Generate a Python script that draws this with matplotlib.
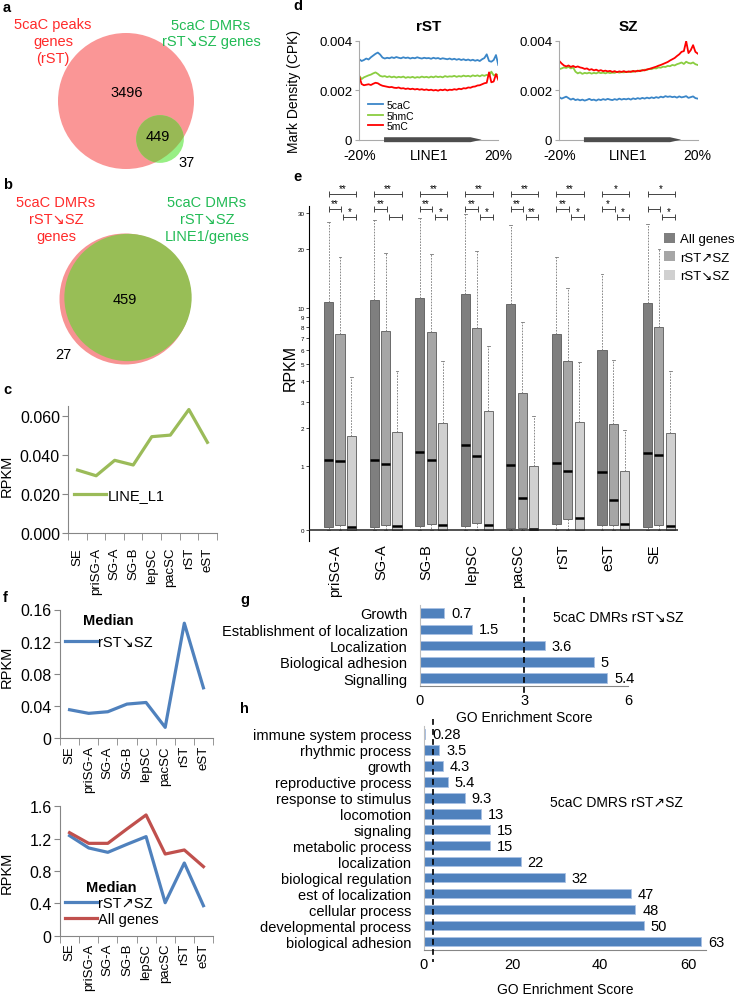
import matplotlib
matplotlib.use("Agg")
import matplotlib.pyplot as plt
from matplotlib.patches import Circle, Patch, Polygon
import numpy as np

plt.rcParams['font.family'] = ['Liberation Sans', 'DejaVu Sans']

# ---------------- data ----------------
# a: Venn 5caC peak genes (rST) vs 5caC DMR rST->SZ genes
venn_a_red_only = 3496
venn_a_both = 449
venn_a_green_only = 37
# b: DMR genes vs DMR LINE1/genes
venn_b_both = 459
venn_b_red_only = 27

# c / f stage order
stages_line = ['SE', 'priSG-A', 'SG-A', 'SG-B', 'lepSC', 'pacSC', 'rST', 'eST']
line_l1 = [0.0322, 0.0293, 0.0372, 0.0348, 0.0493, 0.0501, 0.0632, 0.0464]
median_down = [0.0355, 0.031, 0.033, 0.0425, 0.0445, 0.0136, 0.143, 0.0627]
median_up = [1.237, 1.085, 1.031, 1.13, 1.225, 0.408, 0.899, 0.371]
median_all = [1.274, 1.142, 1.142, 1.32, 1.493, 1.01, 1.06, 0.854]

# d: mark density profiles over LINE1 (units of 1e-3 CPK)
rst_5cac = [3.25, 3.18, 3.22, 3.28, 3.24, 3.33, 3.40, 3.47, 3.52, 3.44,
            3.32, 3.28, 3.31, 3.29, 3.33, 3.30, 3.34, 3.31, 3.29, 3.33,
            3.30, 3.32, 3.28, 3.31, 3.29, 3.33, 3.30, 3.28, 3.31, 3.29,
            3.30, 3.27, 3.31, 3.28, 3.30, 3.26, 3.29, 3.27, 3.25, 3.28,
            3.24, 3.27, 3.23, 3.26, 3.22, 3.25, 3.21, 3.24, 3.20, 3.23,
            3.19, 3.22, 3.18, 3.25, 3.30, 3.45, 3.18, 3.15, 3.22, 3.42, 3.02]
rst_5hmc = [2.58, 2.45, 2.52, 2.56, 2.60, 2.63, 2.68, 2.72, 2.66, 2.58,
            2.55, 2.57, 2.53, 2.56, 2.52, 2.55, 2.51, 2.54, 2.52, 2.55,
            2.50, 2.53, 2.51, 2.54, 2.50, 2.53, 2.51, 2.55, 2.52, 2.54,
            2.51, 2.55, 2.52, 2.56, 2.53, 2.55, 2.52, 2.57, 2.54, 2.56,
            2.55, 2.58, 2.54, 2.57, 2.55, 2.59, 2.56, 2.58, 2.55, 2.60,
            2.57, 2.60, 2.56, 2.61, 2.58, 2.62, 2.59, 2.75, 2.60, 2.63, 2.62]
rst_5mc = [2.55, 2.25, 2.20, 2.22, 2.24, 2.21, 2.26, 2.30, 2.28, 2.22,
           2.18, 2.16, 2.14, 2.12, 2.13, 2.10, 2.09, 2.11, 2.07, 2.08,
           2.05, 2.07, 2.04, 2.06, 2.03, 2.05, 2.02, 2.04, 2.01, 2.03,
           2.00, 2.02, 1.99, 2.01, 1.98, 2.02, 2.00, 2.03, 1.99, 2.02,
           2.01, 2.04, 2.02, 2.06, 2.04, 2.08, 2.07, 2.11, 2.10, 2.14,
           2.15, 2.19, 2.20, 2.24, 2.28, 2.30, 2.72, 2.32, 2.35, 2.65, 2.42]
sz_5cac = [1.72, 1.66, 1.70, 1.74, 1.68, 1.62, 1.66, 1.60, 1.63, 1.59,
           1.62, 1.58, 1.61, 1.65, 1.60, 1.62, 1.58, 1.63, 1.60, 1.64,
           1.61, 1.65, 1.62, 1.60, 1.64, 1.61, 1.66, 1.62, 1.65, 1.63,
           1.66, 1.62, 1.67, 1.64, 1.68, 1.65, 1.69, 1.66, 1.70, 1.67,
           1.71, 1.68, 1.72, 1.69, 1.74, 1.71, 1.76, 1.73, 1.75, 1.72,
           1.74, 1.70, 1.75, 1.71, 1.73, 1.76, 1.69, 1.72, 1.75, 1.68, 1.66]
sz_5hmc = [2.85, 2.88, 2.92, 2.90, 2.94, 2.88, 2.92, 2.75, 2.68, 2.72,
           2.66, 2.70, 2.68, 2.71, 2.67, 2.70, 2.68, 2.72, 2.69, 2.71,
           2.68, 2.72, 2.69, 2.71, 2.70, 2.74, 2.71, 2.73, 2.72, 2.75,
           2.73, 2.76, 2.74, 2.78, 2.76, 2.80, 2.79, 2.83, 2.82, 2.86,
           2.85, 2.89, 2.88, 2.92, 2.91, 2.95, 2.94, 2.98, 2.97, 3.02,
           3.00, 3.05, 3.08, 3.12, 3.06, 3.15, 3.10, 3.08, 3.12, 3.05, 3.02]
sz_5mc = [3.18, 3.08, 3.00, 2.96, 3.00, 2.94, 2.98, 2.93, 2.96, 2.92,
          2.90, 2.86, 2.88, 2.82, 2.85, 2.80, 2.83, 2.78, 2.81, 2.77,
          2.79, 2.76, 2.78, 2.74, 2.77, 2.73, 2.76, 2.74, 2.77, 2.73,
          2.76, 2.74, 2.78, 2.75, 2.79, 2.77, 2.81, 2.80, 2.84, 2.86,
          2.89, 2.92, 2.95, 2.99, 3.02, 3.06, 3.10, 3.14, 3.20, 3.25,
          3.30, 3.38, 3.45, 3.55, 3.58, 3.98, 3.50, 3.62, 3.82, 3.55, 3.48]

# e: RPKM boxplots
stages_box = ['priSG-A', 'SG-A', 'SG-B', 'lepSC', 'pacSC', 'rST', 'eST', 'SE']
all_q1 = [0.03, 0.03, 0.04, 0.04, 0.02, 0.07, 0.05, 0.03]
all_med = [1.14, 1.14, 1.33, 1.51, 1.02, 1.06, 0.87, 1.29]
all_q3 = [10.8, 11.1, 11.3, 11.8, 10.5, 7.33, 6.03, 10.7]
all_whi = [26.9, 27.6, 28.2, 29.4, 26.1, 18.1, 15.0, 26.4]
up_q1 = [0.06, 0.06, 0.07, 0.08, 0.02, 0.13, 0.05, 0.06]
up_med = [1.10, 1.04, 1.13, 1.23, 0.42, 0.90, 0.38, 1.25]
up_q3 = [7.3, 7.6, 7.55, 7.87, 3.41, 5.2, 2.14, 7.99]
up_whi = [18.1, 19.0, 18.8, 19.5, 8.46, 12.7, 5.29, 19.9]
down_q1 = [0, 0, 0, 0, 0, 0, 0, 0]
down_med = [0.033, 0.04, 0.05, 0.05, 0.01, 0.14, 0.065, 0.04]
down_q3 = [1.75, 1.89, 2.17, 2.63, 1.0, 2.2, 0.89, 1.87]
down_whi = [4.25, 4.6, 5.24, 6.34, 2.44, 5.13, 1.95, 4.6]
sig_all_down = ['**', '**', '**', '**', '**', '**', '*', '*']
sig_all_up = ['**', '**', '**', '**', '**', '**', '*', '']
sig_up_down = ['*', '', '*', '*', '**', '*', '*', '*']

# g / h: GO enrichment
go_g_terms = ['Growth', 'Establishment of localization', 'Localization',
              'Biological adhesion', 'Signalling']
go_g_scores = [0.7, 1.5, 3.6, 5, 5.4]
go_h_terms = ['immune system process', 'rhythmic process', 'growth',
              'reproductive process', 'response to stimulus', 'locomotion',
              'signaling', 'metabolic process', 'localization',
              'biological regulation', 'est of localization', 'cellular process',
              'developmental process', 'biological adhesion']
go_h_scores = [0.28, 3.5, 4.3, 5.4, 9.3, 13, 15, 15, 22, 32, 47, 48, 50, 63]

# ---------------- figure ----------------
W, H = 741, 995
fig = plt.figure(figsize=(W / 100, H / 100), dpi=100)


def px_axes(left, top, right, bottom):
    return fig.add_axes([left / W, 1 - bottom / H, (right - left) / W, (bottom - top) / H])


GRAY = '#868686'
RED_T = '#ff2a2a'
GREEN_T = '#22bb55'

ov = fig.add_axes([0, 0, 1, 1], zorder=-1)
ov.set_xlim(0, W)
ov.set_ylim(H, 0)
ov.axis('off')

for lab, x, y in [('a', 3, 8), ('b', 3, 185), ('c', 3, 390), ('d', 293, 6),
                  ('e', 293, 177), ('f', 3, 598), ('g', 240, 600), ('h', 240, 709)]:
    ov.text(x, y, lab, fontsize=10.5, fontweight='bold', ha='left', va='center')

# ----- a -----
k_a = 68 / np.sqrt(venn_a_red_only + venn_a_both)
red_a = Circle((126, 102), k_a * np.sqrt(venn_a_red_only + venn_a_both), fc='#fa9696', ec='none')
ov.add_patch(red_a)
r_g = k_a * np.sqrt(venn_a_both + venn_a_green_only)
ov.add_patch(Circle((160, 140), r_g, fc='#97ef84', ec='none'))
ovl = Circle((160, 140), r_g, fc='#98b955', ec='none')
ov.add_patch(ovl)
ovl.set_clip_path(red_a)
ov.text(53, 42, '5caC peaks\ngenes\n(rST)', color=RED_T, fontsize=10.5, ha='center',
        va='center', linespacing=1.25)
ov.text(211, 34, '5caC DMRs\nrST↘SZ genes', color=GREEN_T, fontsize=10.5, ha='center',
        va='center', linespacing=1.25)
ov.text(127, 93, str(venn_a_red_only), fontsize=10.5, ha='center', va='center')
ov.text(158, 137, str(venn_a_both), fontsize=10.5, ha='center', va='center')
ov.text(187, 163, str(venn_a_green_only), fontsize=10.5, ha='center', va='center')

# ----- b -----
k_b = 65.5 / np.sqrt(venn_b_both + venn_b_red_only)
ov.add_patch(Circle((125, 300), k_b * np.sqrt(venn_b_both + venn_b_red_only), fc='#f79393', ec='none'))
ov.add_patch(Circle((128, 298.5), k_b * np.sqrt(venn_b_both), fc='#98be56', ec='none'))
ov.text(56, 220, '5caC DMRs\nrST↘SZ\ngenes', color=RED_T, fontsize=10.5, ha='center',
        va='center', linespacing=1.25)
ov.text(207, 220, '5caC DMRs\nrST↘SZ\nLINE1/genes', color=GREEN_T, fontsize=10.5,
        ha='center', va='center', linespacing=1.25)
ov.text(125, 300, str(venn_b_both), fontsize=10.5, ha='center', va='center')
ov.text(63, 355, str(venn_b_red_only), fontsize=10.5, ha='center', va='center')


def excel_axes(ax, ylim, yticks, ylabels, xpad):
    n = len(stages_line)
    ax.set_xlim(-0.5, n - 0.5)
    ax.set_ylim(*ylim)
    for s in ['top', 'right']:
        ax.spines[s].set_visible(False)
    for s in ['left', 'bottom']:
        ax.spines[s].set_color(GRAY)
    ax.set_xticks(range(n))
    ax.set_xticklabels(stages_line, rotation=90, fontsize=9.5)
    ax.set_xticks(np.arange(-0.5, n), minor=True)
    ax.tick_params(axis='x', which='major', length=0, pad=xpad)
    ax.tick_params(axis='x', which='minor', length=5, color=GRAY)
    ax.set_yticks(yticks)
    ax.set_yticklabels(ylabels, fontsize=11.5)
    ax.tick_params(axis='y', length=4, color=GRAY, pad=2)
    ax.set_ylabel('RPKM', fontsize=10.5)


# ----- c -----
axc = px_axes(68.3, 407, 216.7, 534)
excel_axes(axc, (0, 0.065), [0, 0.02, 0.04, 0.06], ['0.000', '0.020', '0.040', '0.060'], 10)
axc.plot(range(len(stages_line)), line_l1, color='#9bbb59', lw=2.3, label='LINE_L1')
axc.yaxis.set_label_coords(-0.37, 0.46)
axc.legend(loc='center left', bbox_to_anchor=(0.04, 0.30), frameon=False, fontsize=10.5,
           handlelength=2.2, handletextpad=0.1, borderpad=0, borderaxespad=0)

# ----- d -----
xs = np.linspace(0, 1, len(rst_5cac))
d_cols = {'5caC': '#3a86c8', '5hmC': '#8acd40', '5mC': '#ff0000'}
for (left, right), title, series in [((359.3, 498.3), 'rST', (rst_5cac, rst_5hmc, rst_5mc)),
                                      ((559.3, 697.7), 'SZ', (sz_5cac, sz_5hmc, sz_5mc))]:
    ax = px_axes(left, 41.7, right, 140.7)
    for name, vals in zip(['5caC', '5hmC', '5mC'], series):
        ax.plot(xs, np.array(vals) * 1e-3, color=d_cols[name], lw=1.3, label=name)
    ax.set_xlim(0, 1)
    ax.set_ylim(0, 0.004)
    ax.set_yticks([0, 0.002, 0.004])
    ax.set_yticklabels(['0', '0.002', '0.004'], fontsize=9.5)
    ax.set_xticks([0, 0.5, 1])
    ax.set_xticklabels(['-20%', 'LINE1', '20%'], fontsize=10)
    ax.tick_params(axis='x', length=0, pad=6)
    ax.tick_params(axis='y', length=3, color='#aaaaaa', pad=2)
    for s in ['top', 'right']:
        ax.spines[s].set_visible(False)
    for s in ['left', 'bottom']:
        ax.spines[s].set_color('#aaaaaa')
    ax.set_title(title, fontsize=11, fontweight='bold', pad=8)
    h = 0.0001
    ax.add_patch(Polygon([(0.178, -h), (0.80, -h), (0.88, 0), (0.80, h), (0.178, h)],
                         closed=True, fc='#4d4d4d', ec='none', clip_on=False, zorder=5))
    if title == 'rST':
        ax.set_ylabel('Mark Density (CPK)', fontsize=10)
        ax.yaxis.set_label_coords(-0.42, 0.5)
        ax.legend(loc='upper left', bbox_to_anchor=(0.06, 0.40), frameon=False, fontsize=7.5,
                  handlelength=1.5, handletextpad=0.3, labelspacing=0.05, borderpad=0,
                  borderaxespad=0)

# ----- e -----
axe = px_axes(309.3, 206.7, 678.3, 541.7)
axe.set_yscale('function', functions=(np.log1p, np.expm1))
box_cols = ['#7f7f7f', '#a6a6a6', '#d0d0d0']
groups = [(all_q1, all_med, all_q3, all_whi), (up_q1, up_med, up_q3, up_whi),
          (down_q1, down_med, down_q3, down_whi)]
for j, (q1, med, q3, whi) in enumerate(groups):
    stats = [dict(whislo=0.0, q1=q1[i], med=med[i], q3=q3[i], whishi=whi[i], fliers=[])
             for i in range(len(stages_box))]
    pos = [4 * i + j for i in range(len(stages_box))]
    bp = axe.bxp(stats, positions=pos, widths=0.8, capwidths=0.25, patch_artist=True,
                 showfliers=False,
                 boxprops=dict(facecolor=box_cols[j], edgecolor='#5a5a5a', lw=0.6),
                 medianprops=dict(color='black', lw=1.8, solid_capstyle='butt'),
                 whiskerprops=dict(color='#777777', lw=0.6, ls=(0, (2, 1.5))),
                 capprops=dict(color='#777777', lw=0.6))
axe.axhline(0, color='#222222', lw=1.1, zorder=4)
axe.set_xlim(-1.7, 30.7)
axe.set_ylim(-0.11, 32.4)
yt = [0, 1, 2, 3, 4, 5, 6, 7, 8, 9, 10, 20, 30]
axe.set_yticks(yt)
axe.set_yticklabels([str(v) for v in yt], fontsize=4.5)
axe.tick_params(axis='y', length=2, width=0.5, pad=1.5)
axe.set_xticks([4 * i + 0.6 for i in range(len(stages_box))])
axe.set_xticklabels(stages_box, rotation=90, fontsize=10.5)
axe.tick_params(axis='x', length=0, pad=2)
for s in ['top', 'right', 'bottom']:
    axe.spines[s].set_visible(False)
axe.spines['left'].set_linewidth(0.8)
axe.set_ylabel('RPKM', fontsize=11.5)
axe.yaxis.set_label_coords(-0.032, 0.52)
for i in range(len(stages_box)):
    g = 4 * i
    for (x1, x2, y, s) in [(g, g + 2.4, 37.0, sig_all_down[i]),
                           (g, g + 1.1, 31.3, sig_all_up[i]),
                           (g + 1.3, g + 2.4, 28.7, sig_up_down[i])]:
        axe.plot([x1, x2], [y, y], color='#444444', lw=0.7, marker='|', markersize=5,
                 markeredgewidth=0.7, clip_on=False)
        if s:
            axe.annotate(s, xy=((x1 + x2) / 2, y), xytext=(0, 0.5), textcoords='offset points',
                         ha='center', va='bottom', fontsize=7, annotation_clip=False)
axe.legend(handles=[Patch(facecolor=c, edgecolor='none', label=l)
                    for c, l in zip(box_cols, ['All genes', 'rST↗SZ', 'rST↘SZ'])],
           loc='upper left', bbox_to_anchor=(0.962, 0.92), frameon=False, fontsize=9.5,
           handlelength=0.8, handleheight=0.8, handletextpad=0.4, labelspacing=0.45,
           borderpad=0, borderaxespad=0)

# ----- f -----
axf1 = px_axes(60, 610.5, 213, 739.3)
excel_axes(axf1, (0, 0.16), [0, 0.04, 0.08, 0.12, 0.16], ['0', '0.04', '0.08', '0.12', '0.16'], 5)
axf1.plot(range(len(stages_line)), median_down, color='#4f81bd', lw=2.3, label='rST↘SZ')
axf1.yaxis.set_label_coords(-0.30, 0.56)
axf1.legend(title='Median', title_fontproperties=dict(weight='bold', size=10.5),
            loc='upper left', bbox_to_anchor=(0.03, 0.97), frameon=False, fontsize=10.5,
            handlelength=2.2, handletextpad=0.1, borderpad=0, borderaxespad=0)

axf2 = px_axes(60, 807.3, 213, 936.7)
excel_axes(axf2, (0, 1.6), [0, 0.4, 0.8, 1.2, 1.6], ['0', '0.4', '0.8', '1.2', '1.6'], 5)
axf2.plot(range(len(stages_line)), median_up, color='#4f81bd', lw=2.3, label='rST↗SZ')
axf2.plot(range(len(stages_line)), median_all, color='#c0504d', lw=2.3, label='All genes')
axf2.yaxis.set_label_coords(-0.30, 0.49)
axf2.legend(title='Median', title_fontproperties=dict(weight='bold', size=10.5),
            loc='upper left', bbox_to_anchor=(0.03, 0.43), frameon=False, fontsize=10.5,
            handlelength=2.2, handletextpad=0.1, labelspacing=0.15, borderpad=0,
            borderaxespad=0)


def go_axes(ax, terms, scores, xmax, xticks, dash_x, dash_ext, note, note_xy):
    n = len(terms)
    y = np.arange(n)
    ax.barh(y, scores, height=0.58, color='#4f81bd', edgecolor='#a9c1e3', lw=0.6)
    ax.set_ylim(n - 0.5, -0.5)
    ax.set_xlim(0, xmax)
    ax.set_yticks(y)
    ax.set_yticklabels(terms, fontsize=10.5)
    ax.set_xticks(xticks)
    ax.set_xticklabels([str(v) for v in xticks], fontsize=10.5)
    ax.tick_params(axis='y', length=0, pad=9)
    ax.tick_params(axis='x', length=0, pad=5)
    for s in ['top', 'right']:
        ax.spines[s].set_visible(False)
    ax.spines['left'].set_color('#bfbfbf')
    ax.spines['bottom'].set_color(GRAY)
    for yi, v in zip(y, scores):
        ax.annotate(f'{v:g}', xy=(v, yi), xytext=(5, 0), textcoords='offset points',
                    ha='left', va='center', fontsize=10.5)
    ax.plot([dash_x, dash_x], [-0.5 - dash_ext[0], n - 0.5 + dash_ext[1]], color='black',
            lw=1.2, ls=(0, (3.5, 2.5)), clip_on=False, zorder=5)
    ax.text(note_xy[0], note_xy[1], note, transform=ax.transAxes, fontsize=10,
            ha='left', va='center')
    ax.set_xlabel('GO Enrichment Score', fontsize=10, labelpad=2)


axg = px_axes(420, 605.8, 628.3, 687.3)
go_axes(axg, go_g_terms, go_g_scores, 6, [0, 3, 6], 3, (0.49, 0.47),
        '5caC DMRs rST↘SZ', (0.64, 0.85))

axh = px_axes(424, 727, 705.6, 950.7)
go_axes(axh, go_h_terms, go_h_scores, 64, [0, 20, 40, 60], 2, (0.44, 0.77),
        '5caC DMRS rST↗SZ', (0.447, 0.662))
axh.xaxis.labelpad = 8

fig.savefig('out.png', dpi=100)
